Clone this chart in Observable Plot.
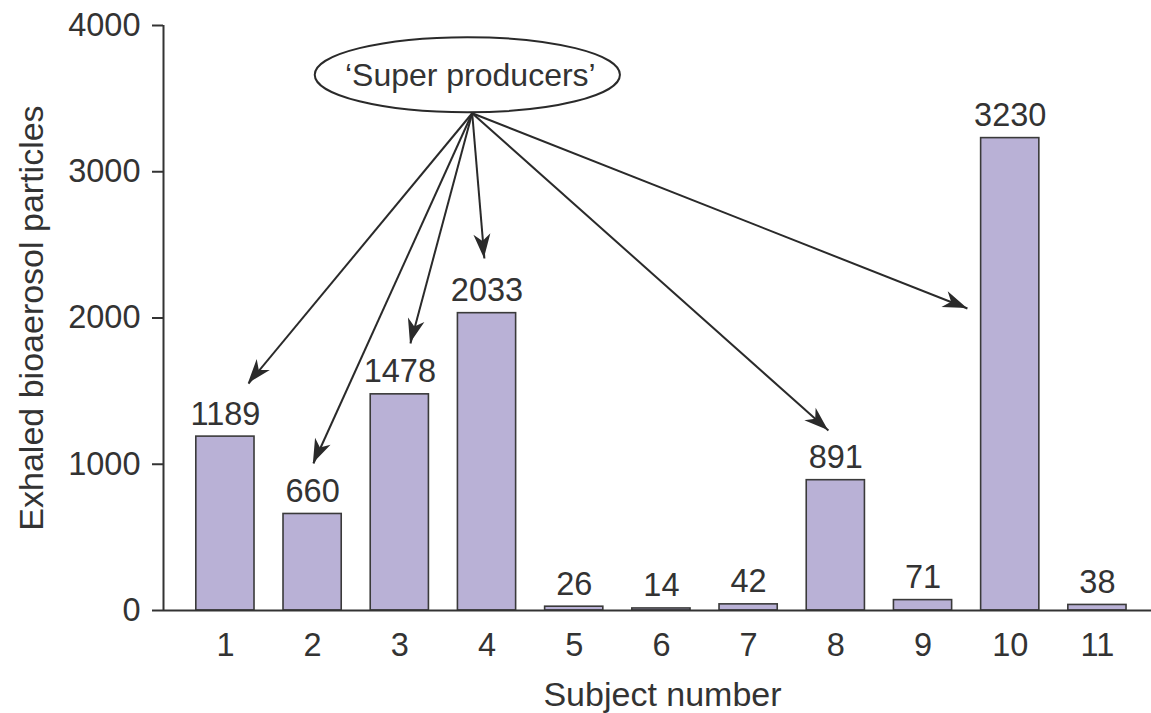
<!DOCTYPE html>
<html><head><meta charset="utf-8">
<script src="https://cdn.jsdelivr.net/npm/d3@7"></script>
<script src="https://cdn.jsdelivr.net/npm/@observablehq/plot@0.6"></script>
<style>body{margin:0;background:#fff;}</style>
</head><body><div id="chart"></div>
<script>
const subjects = [1,2,3,4,5,6,7,8,9,10,11];
const particles = [1189,660,1478,2033,26,14,42,891,71,3230,38];
const yTicks = [0,1000,2000,3000,4000];
const xTitle = "Subject number";
const yTitle = "Exhaled bioaerosol particles";
const calloutText = "‘Super producers’";
const calloutCenter = [3.78, 3660];
const calloutRadius = [1.75, 257];
const arrowSource = [3.83, 3400];
const arrowTargetX = [1.264, 2.009, 3.122, 3.97, 7.915, 9.509];
const arrowTargetY = [1552, 1005, 1826, 2407, 1231, 2065];
const xDomain = [0.29, 11.62];
const yDomain = [0, 4000];

const data = subjects.map((s, i) => ({subject: s, value: particles[i]}));
const arrows = arrowTargetX.map((x, i) => ({x1: arrowSource[0], y1: arrowSource[1], x2: x, y2: arrowTargetY[i]}));

const FONT = "'Liberation Sans', Arial, Helvetica, sans-serif";
const INK = "#333333";

const plot = Plot.plot({
  width: 1151,
  height: 713,
  marginLeft: 163,
  marginRight: 0,
  marginTop: 25,
  marginBottom: 103,
  style: {fontFamily: FONT, fontSize: "32px", color: INK, background: "#fff", overflow: "visible"},
  x: {type: "linear", domain: xDomain},
  y: {domain: yDomain},
  marks: [
    Plot.rectY(data, {x1: d => d.subject - 0.5, x2: d => d.subject + 0.5, y: "value",
      insetLeft: 14.5, insetRight: 14.5, fill: "#b9b1d6", stroke: "#3a3a3a", strokeWidth: 1.6}),
    Plot.ruleX([xDomain[0]], {stroke: INK, strokeWidth: 2}),
    Plot.ruleY([0], {stroke: INK, strokeWidth: 2}),
    Plot.axisY({ticks: yTicks, tickSize: 11, tickPadding: 12, fontSize: 32.5, label: null, strokeWidth: 2, tickFormat: d => String(d)}),
    Plot.axisX({ticks: subjects, tickSize: 0, tickPadding: 22, fontSize: 32.5, label: null, tickFormat: d => String(d)}),
    Plot.text(data, {x: "subject", y: "value", text: d => String(d.value), lineAnchor: "bottom", dy: -12, fontSize: 32.5, fill: INK}),
    Plot.text([xTitle], {frameAnchor: "bottom", lineAnchor: "top", dy: 71, dx: 5, fontSize: 34, fill: INK}),
    Plot.text([yTitle], {frameAnchor: "left", textAnchor: "middle", lineAnchor: "middle", rotate: -90, dx: -131, fontSize: 34, fill: INK}),
    Plot.link(arrows, {x1: "x1", y1: "y1", x2: "x2", y2: "y2", stroke: "#2a2a2a", strokeWidth: 2})
  ]
});

const svg = d3.select(plot);
const sx = plot.scale("x"), sy = plot.scale("y");
const X = v => sx.apply(v), Y = v => sy.apply(v);

// callout ellipse
const ecx = X(calloutCenter[0]), ecy = Y(calloutCenter[1]);
const erx = X(calloutCenter[0] + calloutRadius[0]) - ecx;
const ery = ecy - Y(calloutCenter[1] + calloutRadius[1]);
svg.append("ellipse").attr("cx", ecx).attr("cy", ecy).attr("rx", erx).attr("ry", ery)
  .attr("fill", "#fff").attr("stroke", "#2a2a2a").attr("stroke-width", 2);
svg.append("text").attr("x", X(calloutCenter[0]) + 3).attr("y", ecy).attr("dy", "0.35em")
  .attr("text-anchor", "middle").attr("font-size", 32).attr("font-family", FONT)
  .attr("fill", INK).text(calloutText);

// filled arrowheads
const L = 24, W = 8.5, N = 7;
for (const a of arrows) {
  const tx = X(a.x2), ty = Y(a.y2), fx = X(a.x1), fy = Y(a.y1);
  const dx = tx - fx, dy = ty - fy, len = Math.hypot(dx, dy);
  const ux = dx / len, uy = dy / len, nx = -uy, ny = ux;
  const bx = tx - L * ux, by = ty - L * uy;
  const pts = [[tx, ty], [bx + W * nx, by + W * ny], [tx - (L - N) * ux, ty - (L - N) * uy], [bx - W * nx, by - W * ny]];
  svg.append("path").attr("d", "M" + pts.map(p => p.join(",")).join("L") + "Z").attr("fill", "#2a2a2a");
}

document.getElementById("chart").appendChild(plot);
</script>
</body></html>
